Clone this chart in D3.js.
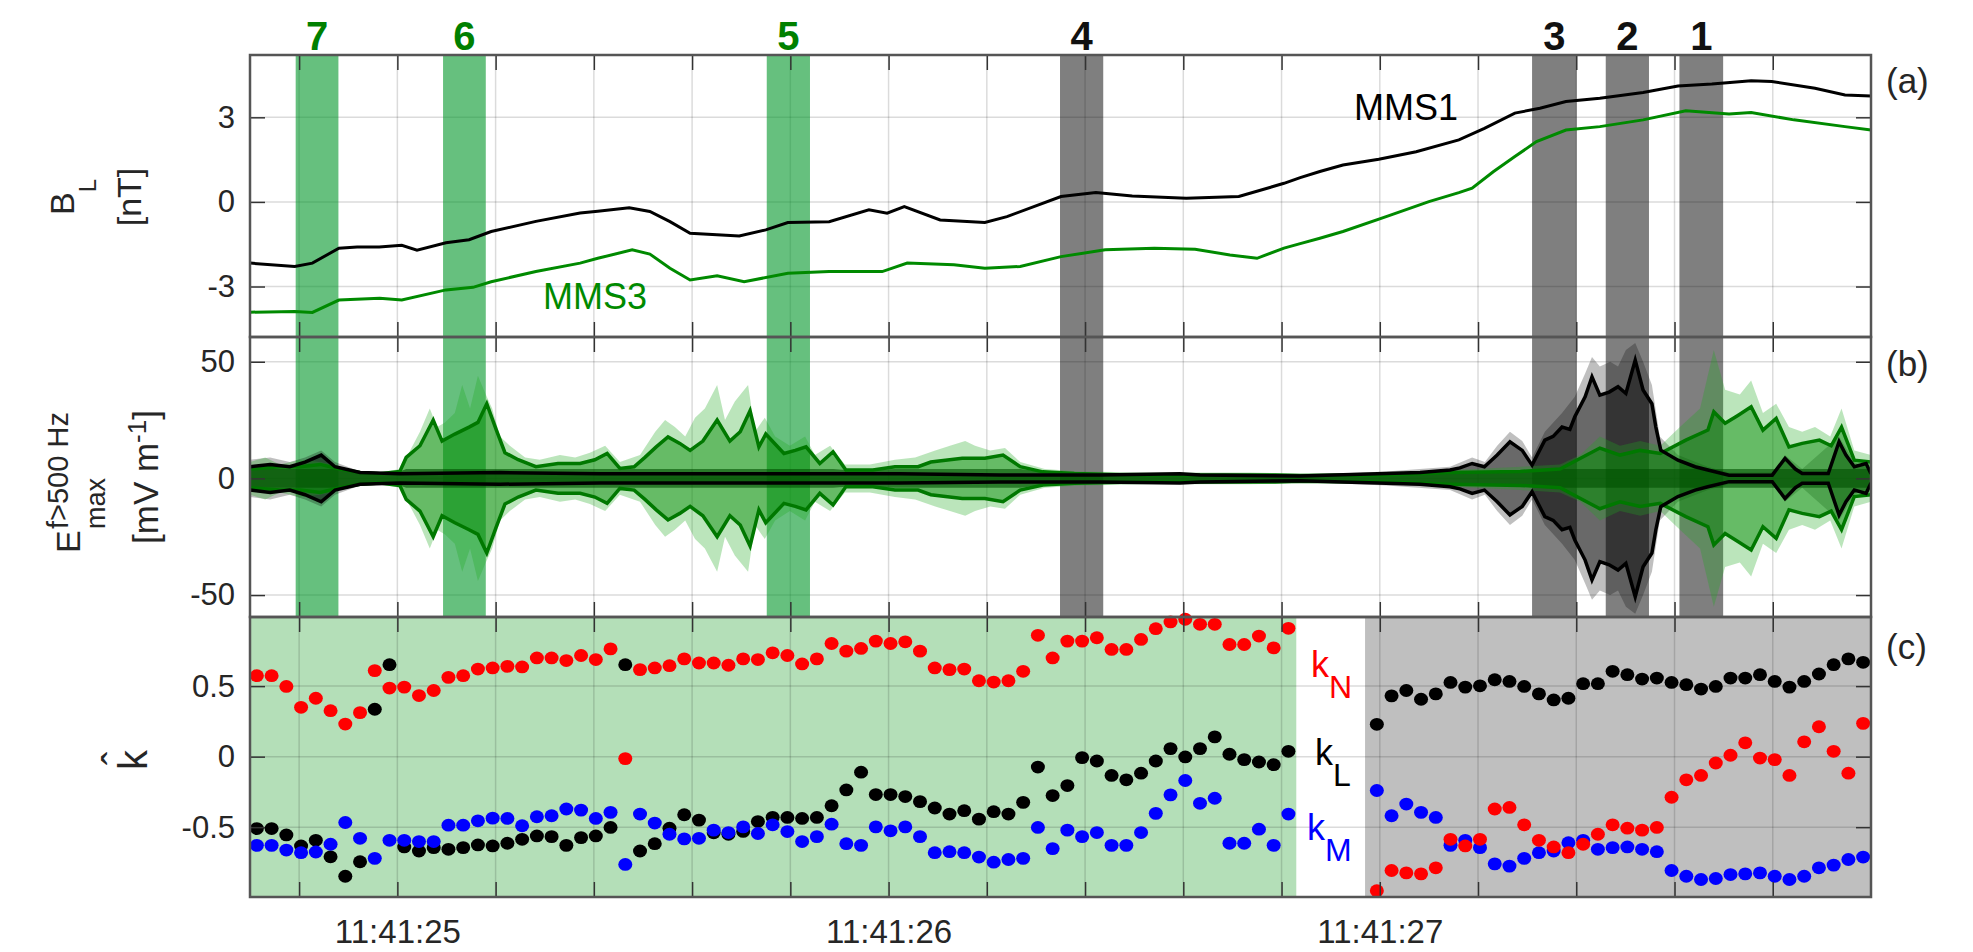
<!DOCTYPE html>
<html>
<head>
<meta charset="utf-8">
<script src="https://cdn.jsdelivr.net/npm/d3@7"></script>
<style>
  body { margin: 0; background: #fff; }
  text { font-family: "Liberation Sans", Arial, Helvetica, sans-serif; }
</style>
</head>
<body>
<svg width="1973" height="952"></svg>
<script>
// time is in seconds after 11:41:00

// vertical grid / x ticks
var gridTimes = [24.8, 25.0, 25.2, 25.4, 25.6, 25.8, 26.0, 26.2, 26.4, 26.6, 26.8, 27.0, 27.2, 27.4, 27.6, 27.8];
var timeLabels = {25: "11:41:25", 26: "11:41:26", 27: "11:41:27"};

// numbered intervals
var bandStart = [24.793, 25.093, 25.752, 26.349, 27.310, 27.460, 27.610];
var bandEnd   = [24.880, 25.180, 25.840, 26.437, 27.401, 27.548, 27.699];
var bandLabel = ["7", "6", "5", "4", "3", "2", "1"];
var bandKind  = ["g", "g", "g", "k", "k", "k", "k"];

// (a) B_L [nT]
var blTime1 = [24.700, 24.791, 24.827, 24.881, 24.918, 24.963, 25.009, 25.040, 25.099, 25.146, 25.191, 25.282, 25.372, 25.408, 25.472, 25.514, 25.555, 25.596, 25.696, 25.750, 25.795, 25.879, 25.960, 25.997, 26.032, 26.105, 26.196, 26.241, 26.351, 26.422, 26.496, 26.606, 26.713, 26.805, 26.838, 26.878, 26.925, 26.998, 27.074, 27.161, 27.213, 27.275, 27.326, 27.379, 27.448, 27.536, 27.607, 27.676, 27.756, 27.798, 27.886, 27.947, 28.000];
var blMms1  = [-2.17, -2.29, -2.17, -1.64, -1.60, -1.60, -1.54, -1.71, -1.45, -1.34, -1.05, -0.69, -0.39, -0.33, -0.21, -0.34, -0.70, -1.11, -1.21, -0.99, -0.73, -0.70, -0.28, -0.40, -0.17, -0.64, -0.73, -0.52, 0.19, 0.33, 0.21, 0.13, 0.19, 0.66, 0.86, 1.08, 1.31, 1.51, 1.78, 2.20, 2.61, 3.15, 3.32, 3.56, 3.68, 3.88, 4.11, 4.18, 4.30, 4.27, 4.03, 3.79, 3.76];
var blTime3 = [24.700, 24.791, 24.827, 24.881, 24.964, 25.009, 25.099, 25.154, 25.191, 25.282, 25.372, 25.408, 25.478, 25.514, 25.555, 25.596, 25.651, 25.706, 25.795, 25.879, 25.987, 26.038, 26.133, 26.196, 26.268, 26.351, 26.441, 26.541, 26.624, 26.695, 26.750, 26.805, 26.838, 26.878, 26.925, 27.013, 27.100, 27.161, 27.188, 27.231, 27.275, 27.319, 27.379, 27.448, 27.536, 27.623, 27.711, 27.756, 27.843, 27.947, 28.000];
var blMms3  = [-3.91, -3.89, -3.92, -3.48, -3.42, -3.48, -3.12, -3.03, -2.83, -2.47, -2.17, -2.00, -1.70, -1.85, -2.35, -2.77, -2.62, -2.83, -2.53, -2.47, -2.47, -2.17, -2.23, -2.35, -2.29, -1.94, -1.70, -1.64, -1.68, -1.88, -2.00, -1.64, -1.48, -1.29, -1.05, -0.52, 0.01, 0.33, 0.49, 1.07, 1.61, 2.14, 2.55, 2.67, 2.91, 3.23, 3.12, 3.17, 2.91, 2.67, 2.55];

// (b) E max f>500 Hz [mV/m]: envelope and waveform extremes
var eTime3 = [24.700, 24.761, 24.802, 24.843, 24.883, 24.924, 24.965, 25.005, 25.018, 25.046, 25.073, 25.091, 25.117, 25.146, 25.164, 25.182, 25.201, 25.219, 25.246, 25.282, 25.327, 25.372, 25.402, 25.427, 25.453, 25.482, 25.504, 25.527, 25.551, 25.575, 25.596, 25.622, 25.651, 25.677, 25.698, 25.718, 25.736, 25.750, 25.787, 25.810, 25.832, 25.860, 25.887, 25.913, 25.968, 26.013, 26.060, 26.086, 26.150, 26.196, 26.233, 26.268, 26.314, 26.378, 26.471, 26.634, 26.787, 26.838, 27.013, 27.143, 27.286, 27.367, 27.448, 27.489, 27.530, 27.571, 27.623, 27.668, 27.680, 27.703, 27.729, 27.756, 27.780, 27.807, 27.833, 27.860, 27.895, 27.919, 27.940, 27.966, 28.000];
var eEnv3  = [4, 5, 5, 6, 4, 2.5, 2, 3, 9, 14, 25, 16, 19, 22, 24, 32, 21, 11, 8, 5, 6.4, 6.4, 8, 10.7, 4.3, 5, 9, 13.5, 17.8, 15, 12, 16, 25, 16, 20, 29, 13.5, 19, 10.7, 12, 13.5, 6.4, 11.4, 3.6, 3.6, 5, 5, 7, 8.6, 8.6, 10, 5, 2.8, 2.1, 1.6, 1.5, 1.5, 1.2, 1.5, 2.5, 3, 4, 13, 10, 12, 10.7, 16.4, 20.7, 28.5, 23.6, 27, 30.7, 20.7, 25.7, 13.5, 15, 16.4, 14, 22, 7.8, 7];
var pTime3 = [24.700, 24.731, 24.761, 24.802, 24.843, 24.883, 24.924, 24.965, 25.005, 25.026, 25.046, 25.066, 25.081, 25.097, 25.117, 25.132, 25.148, 25.164, 25.180, 25.193, 25.209, 25.229, 25.260, 25.290, 25.331, 25.362, 25.392, 25.423, 25.453, 25.494, 25.525, 25.545, 25.565, 25.586, 25.606, 25.626, 25.651, 25.667, 25.687, 25.714, 25.728, 25.748, 25.769, 25.799, 25.830, 25.850, 25.881, 25.911, 25.962, 26.013, 26.054, 26.095, 26.125, 26.156, 26.176, 26.207, 26.237, 26.268, 26.318, 26.390, 26.532, 26.736, 26.838, 27.041, 27.143, 27.286, 27.367, 27.408, 27.448, 27.489, 27.530, 27.571, 27.611, 27.652, 27.680, 27.703, 27.733, 27.756, 27.780, 27.807, 27.833, 27.860, 27.886, 27.917, 27.940, 27.966, 28.000];
var pPeak3 = [7, 9, 6, 8, 7, 5, 3, 2.5, 4, 12, 20, 30, 22, 24, 28, 40, 30, 44, 36, 30, 18, 14, 9, 8, 10, 9, 11, 14, 7, 10, 20, 25, 22, 18, 26, 30, 40, 25, 33, 40, 20, 26, 18, 14, 18, 10, 14, 6, 6, 8, 9, 12, 14, 16, 14, 12, 13, 7, 4, 3, 2.5, 2.5, 2, 2.5, 3.5, 5, 6, 10, 18, 14, 16, 14, 22, 30, 55, 38, 36, 42, 28, 32, 22, 20, 22, 18, 30, 12, 10];

var eTime1 = [24.700, 24.741, 24.781, 24.812, 24.845, 24.873, 24.924, 25.005, 25.209, 25.413, 25.616, 25.820, 26.023, 26.227, 26.430, 26.593, 26.634, 26.838, 27.013, 27.082, 27.143, 27.163, 27.188, 27.213, 27.239, 27.265, 27.290, 27.310, 27.336, 27.353, 27.371, 27.387, 27.397, 27.418, 27.432, 27.448, 27.467, 27.485, 27.501, 27.520, 27.536, 27.554, 27.562, 27.572, 27.607, 27.642, 27.668, 27.711, 27.799, 27.825, 27.846, 27.860, 27.913, 27.935, 27.949, 27.966, 27.990, 28.000];
var eEnv1  = [5, 6, 5, 7, 10, 5, 2.5, 2, 2.5, 2, 2, 2, 2, 1.5, 1.5, 2, 1.5, 1, 2.1, 2.5, 3.6, 4.5, 6.4, 5, 10, 15.7, 12, 5.7, 16.4, 18, 22, 21, 26.4, 35, 43.5, 35.7, 37, 39.3, 36.4, 50.7, 37.9, 32, 22, 12.1, 7.8, 5, 3.6, 1.4, 1.4, 8.6, 4, 2.1, 2.1, 15.7, 10, 5, 6.4, 2];
var pTime1 = [24.700, 24.741, 24.781, 24.812, 24.845, 24.873, 24.924, 25.005, 26.838, 27.013, 27.143, 27.188, 27.214, 27.239, 27.265, 27.290, 27.310, 27.336, 27.371, 27.397, 27.418, 27.432, 27.448, 27.469, 27.485, 27.501, 27.520, 27.536, 27.554, 27.570, 27.607, 27.668, 27.711, 27.799, 27.825, 27.860, 27.935, 27.966, 28.000];
var pPeak1 = [8, 9, 7, 9, 12, 7, 3, 2.5, 1.5, 3, 5, 9, 7, 14, 20, 16, 9, 20, 28, 35, 45, 52, 48, 50, 48, 55, 58, 50, 40, 18, 10, 5, 2.5, 2.5, 10, 4, 18, 7, 4];

// (c) k-hat components, one sample every 0.03 s from 24.714 s (null = no estimate)
var kStart = 24.714, kStep = 0.03;
var kN = [0.574, 0.574, 0.498, 0.350, 0.414, 0.326, 0.231, 0.312, 0.610, 0.486, 0.493, 0.433, 0.469, 0.562, 0.574, 0.621, 0.629, 0.640, 0.636, 0.700, 0.700, 0.681, 0.717, 0.688, 0.764, -0.014, 0.617, 0.629, 0.645, 0.693, 0.664, 0.664, 0.648, 0.693, 0.688, 0.736, 0.717, 0.657, 0.693, 0.802, 0.748, 0.767, 0.819, 0.802, 0.814, 0.748, 0.629, 0.617, 0.621, 0.538, 0.529, 0.538, 0.605, 0.860, 0.700, 0.819, 0.819, 0.843, 0.760, 0.760, 0.831, 0.907, 0.955, 0.974, 0.938, 0.938, 0.795, 0.795, 0.855, 0.771, 0.910, null, null, null, null, null, -0.950, -0.807, -0.824, -0.831, -0.788, -0.586, -0.633, -0.586, -0.371, -0.360, -0.483, -0.593, -0.640, -0.681, -0.621, -0.550, -0.483, -0.507, -0.521, -0.502, -0.288, -0.164, -0.133, -0.045, 0.010, 0.098, -0.010, -0.021, -0.133, 0.105, 0.212, 0.038, -0.117, 0.236];
var kL = [-0.510, -0.510, -0.555, -0.633, -0.593, -0.710, -0.848, -0.745, 0.336, 0.652, -0.640, -0.669, -0.645, -0.657, -0.645, -0.626, -0.633, -0.614, -0.586, -0.562, -0.567, -0.629, -0.574, -0.562, -0.502, 0.652, -0.669, -0.617, -0.507, -0.412, -0.450, -0.540, -0.550, -0.530, -0.460, -0.430, -0.431, -0.438, -0.431, -0.348, -0.236, -0.110, -0.269, -0.269, -0.283, -0.319, -0.364, -0.407, -0.383, -0.443, -0.390, -0.407, -0.324, -0.074, -0.276, -0.205, -0.007, -0.031, -0.133, -0.164, -0.117, -0.031, 0.057, -0.002, 0.057, 0.140, 0.017, -0.021, -0.038, -0.057, 0.038, null, null, null, null, null, 0.229, 0.431, 0.469, 0.407, 0.445, 0.526, 0.493, 0.502, 0.545, 0.533, 0.498, 0.445, 0.402, 0.414, 0.517, 0.517, 0.605, 0.581, 0.550, 0.557, 0.526, 0.510, 0.479, 0.498, 0.557, 0.557, 0.581, 0.533, 0.493, 0.533, 0.586, 0.652, 0.693, 0.669];
var kM = [-0.629, -0.629, -0.662, -0.681, -0.676, -0.621, -0.467, -0.579, -0.721, -0.593, -0.593, -0.602, -0.602, -0.486, -0.486, -0.455, -0.436, -0.438, -0.490, -0.426, -0.419, -0.371, -0.379, -0.438, -0.395, -0.764, -0.407, -0.471, -0.550, -0.583, -0.579, -0.521, -0.538, -0.498, -0.545, -0.483, -0.531, -0.602, -0.567, -0.479, -0.617, -0.629, -0.498, -0.526, -0.498, -0.567, -0.681, -0.674, -0.681, -0.712, -0.748, -0.729, -0.721, -0.502, -0.652, -0.521, -0.567, -0.538, -0.629, -0.629, -0.538, -0.402, -0.271, -0.169, -0.331, -0.295, -0.614, -0.614, -0.514, -0.629, -0.407, null, null, null, null, null, -0.240, -0.419, -0.336, -0.395, -0.431, -0.629, -0.593, -0.645, -0.760, -0.776, -0.721, -0.681, -0.669, -0.610, -0.593, -0.657, -0.645, -0.640, -0.657, -0.674, -0.807, -0.848, -0.871, -0.864, -0.836, -0.831, -0.824, -0.848, -0.871, -0.848, -0.788, -0.769, -0.729, -0.712];
// shaded regions behind (c)
var kBgStart = [24.7, 26.970];
var kBgEnd   = [26.830, 28.0];
var kBgColor = ["#b4dfb8", "#bfbfbf"];

var svg = d3.select("svg");
var left = 250, right = 1871;
var topA = 55, topB = 337, topC = 617, bottomC = 897;

var x  = d3.scaleLinear().domain([24.7, 28.0]).range([left, right]);
var yA = d3.scaleLinear().domain([-4.79, 5.21]).range([topB, topA]);
var yB = d3.scaleLinear().domain([-59.4, 60.6]).range([topC, topB]);
var yC = d3.scaleLinear().domain([-0.995, 0.99]).range([bottomC, topC]);

var green = "#008000";

function pairs(ts, vs) { return ts.map(function(t, i) { return {t: t, v: vs[i]}; }); }

function grid(top, bottom, yS, yTicks) {
  var g = svg.append("g").attr("stroke", "rgba(0,0,0,0.14)").attr("stroke-width", 1.5);
  g.selectAll(".gx").data(gridTimes).enter().append("line")
    .attr("x1", function(d) { return x(d); }).attr("x2", function(d) { return x(d); })
    .attr("y1", top).attr("y2", bottom);
  g.selectAll(".gy").data(yTicks).enter().append("line")
    .attr("x1", left).attr("x2", right)
    .attr("y1", function(d) { return yS(d); }).attr("y2", function(d) { return yS(d); });
}

function frame(top, bottom, yS, yTicks, withTime) {
  var g = svg.append("g");
  var ya = g.append("g").attr("transform", "translate(" + left + ",0)")
    .call(d3.axisLeft(yS).tickValues(yTicks).tickFormat(function(d) { return String(d); })
      .tickSizeInner(-15).tickSizeOuter(0).tickPadding(15));
  g.append("g").attr("transform", "translate(" + right + ",0)")
    .call(d3.axisRight(yS).tickValues(yTicks).tickFormat("").tickSizeInner(-15).tickSizeOuter(0));
  g.append("g").attr("transform", "translate(0," + top + ")")
    .call(d3.axisTop(x).tickValues(gridTimes).tickFormat("").tickSizeInner(-15).tickSizeOuter(0));
  var xa = g.append("g").attr("transform", "translate(0," + bottom + ")")
    .call(d3.axisBottom(x).tickValues(gridTimes)
      .tickFormat(function(d) { return withTime ? (timeLabels[Math.round(d * 10) / 10] || "") : ""; })
      .tickSizeInner(-15).tickSizeOuter(0));
  g.selectAll(".domain").remove();
  g.selectAll(".tick line").attr("stroke", "#333").attr("stroke-width", 1.5);
  ya.selectAll("text").attr("font-size", 31).attr("fill", "#262626");
  xa.selectAll("text").attr("font-size", 33).attr("fill", "#262626").attr("y", 46).attr("dy", null);
  g.append("rect").attr("x", left).attr("y", top).attr("width", right - left).attr("height", bottom - top)
    .attr("fill", "none").attr("stroke", "#555").attr("stroke-width", 2.5);
}

function bands(top, bottom) {
  svg.append("g").selectAll("rect").data(bandStart).enter().append("rect")
    .attr("x", function(d) { return x(d); })
    .attr("width", function(d, i) { return x(bandEnd[i]) - x(d); })
    .attr("y", top).attr("height", bottom - top)
    .attr("fill", function(d, i) { return bandKind[i] === "g" ? "rgb(0,150,40)" : "#000"; })
    .attr("fill-opacity", function(d, i) { return bandKind[i] === "g" ? 0.6 : 0.5; });
}

// ---------- panel (a)
grid(topA, topB, yA, [-3, 0, 3]);
bands(topA, topB);
var lineA = d3.line().x(function(d) { return x(d.t); }).y(function(d) { return yA(d.v); });
svg.append("path").datum(pairs(blTime3, blMms3)).attr("d", lineA)
  .attr("fill", "none").attr("stroke", "#008a00").attr("stroke-width", 3);
svg.append("path").datum(pairs(blTime1, blMms1)).attr("d", lineA)
  .attr("fill", "none").attr("stroke", "#000").attr("stroke-width", 3);
svg.append("text").attr("x", 1354).attr("y", 120).attr("font-size", 36).attr("fill", "#000").text("MMS1");
svg.append("text").attr("x", 543).attr("y", 309).attr("font-size", 36).attr("fill", "#008a00").text("MMS3");

// ---------- panel (b)
grid(topB, topC, yB, [-50, 0, 50]);
bands(topB, topC);
svg.append("clipPath").attr("id", "clipB").append("rect")
  .attr("x", left).attr("y", topB).attr("width", right - left).attr("height", topC - topB);
var gB = svg.append("g").attr("clip-path", "url(#clipB)");
var band = d3.area().x(function(d) { return x(d.t); })
  .y0(function(d) { return yB(-d.v); }).y1(function(d) { return yB(d.v); });
var upper = d3.line().x(function(d) { return x(d.t); }).y(function(d) { return yB(d.v); });
var lower = d3.line().x(function(d) { return x(d.t); }).y(function(d) { return yB(-d.v); });

var env1 = pairs(eTime1, eEnv1), env3 = pairs(eTime3, eEnv3);
gB.append("path").datum(pairs(pTime1, pPeak1)).attr("d", band).attr("fill", "rgba(0,0,0,0.25)");
gB.append("path").datum(env1).attr("d", band).attr("fill", "rgba(0,0,0,0.45)");
gB.append("path").datum(pairs(pTime3, pPeak3)).attr("d", band).attr("fill", "rgba(30,170,30,0.3)");
gB.append("path").datum(env3).attr("d", band).attr("fill", "rgba(0,135,0,0.45)");
gB.append("path").datum(env3.map(function(d) { return {t: d.t, v: Math.min(d.v, 4)}; }))
  .attr("d", band).attr("fill", "rgba(0,80,0,0.6)");
[upper, lower].forEach(function(l) {
  gB.append("path").datum(env3).attr("d", l).attr("fill", "none").attr("stroke", "#007800").attr("stroke-width", 3.5);
});
[upper, lower].forEach(function(l) {
  gB.append("path").datum(env1).attr("d", l).attr("fill", "none").attr("stroke", "#000").attr("stroke-width", 3.5);
});

// ---------- panel (c)
svg.append("g").selectAll("rect").data(kBgStart).enter().append("rect")
  .attr("x", function(d) { return x(d); })
  .attr("width", function(d, i) { return x(kBgEnd[i]) - x(d); })
  .attr("y", topC).attr("height", bottomC - topC)
  .attr("fill", function(d, i) { return kBgColor[i]; });
grid(topC, bottomC, yC, [-0.5, 0, 0.5]);

function dots(vals, col) {
  var data = vals.map(function(v, i) { return {t: kStart + kStep * i, v: v}; })
    .filter(function(d) { return d.v !== null; });
  svg.append("g").selectAll("ellipse").data(data).enter().append("ellipse")
    .attr("cx", function(d) { return x(d.t); }).attr("cy", function(d) { return yC(d.v); })
    .attr("rx", 7).attr("ry", 6.4).attr("fill", col);
}
dots(kL, "#000");
dots(kM, "#0000ff");
dots(kN, "#ff0000");

function kLabel(xp, yp, sub, col) {
  var t = svg.append("text").attr("x", xp).attr("y", yp).attr("fill", col).attr("font-size", 36);
  t.append("tspan").text("k");
  t.append("tspan").attr("dy", 21).attr("font-size", 32).text(sub);
}
kLabel(1311, 677, "N", "#ff0000");
kLabel(1315, 765, "L", "#000");
kLabel(1307, 840, "M", "#0000ff");

// frames and ticks on top
frame(topA, topB, yA, [-3, 0, 3], false);
frame(topB, topC, yB, [-50, 0, 50], false);
frame(topC, bottomC, yC, [-0.5, 0, 0.5], true);

// interval numbers
svg.append("g").selectAll("text").data(bandStart).enter().append("text")
  .attr("x", function(d, i) { return (x(d) + x(bandEnd[i])) / 2; })
  .attr("y", 50).attr("text-anchor", "middle")
  .attr("font-size", 40).attr("font-weight", "bold")
  .attr("fill", function(d, i) { return bandKind[i] === "g" ? green : "#111"; })
  .text(function(d, i) { return bandLabel[i]; });

// panel letters
[["(a)", 93], ["(b)", 376], ["(c)", 659]].forEach(function(p) {
  svg.append("text").attr("x", 1886).attr("y", p[1]).attr("font-size", 35).attr("fill", "#262626").text(p[0]);
});

// y labels
var la = svg.append("text").attr("transform", "translate(74,197) rotate(-90)")
  .attr("text-anchor", "middle").attr("font-size", 34).attr("fill", "#262626");
la.append("tspan").text("B");
la.append("tspan").attr("dy", 22).attr("font-size", 24).text("L");
svg.append("text").attr("transform", "translate(141,197) rotate(-90)")
  .attr("text-anchor", "middle").attr("font-size", 34).attr("fill", "#262626").text("[nT]");

var lb = svg.append("text").attr("transform", "translate(80,553) rotate(-90)")
  .attr("font-size", 34).attr("fill", "#262626");
lb.append("tspan").attr("x", 0).attr("y", 0).text("E");
lb.append("tspan").attr("x", 24).attr("y", -12).attr("font-size", 29).text("f>500 Hz");
lb.append("tspan").attr("x", 24).attr("y", 25).attr("font-size", 27).text("max");
var lb2 = svg.append("text").attr("transform", "translate(158,477) rotate(-90)")
  .attr("text-anchor", "middle").attr("font-size", 35).attr("fill", "#262626");
lb2.append("tspan").text("[mV m");
lb2.append("tspan").attr("dy", -12).attr("font-size", 26).text("-1");
lb2.append("tspan").attr("dy", 12).text("]");

var lc = svg.append("text").attr("transform", "translate(147,770) rotate(-90)")
  .attr("font-size", 40).attr("fill", "#262626");
lc.append("tspan").attr("x", 0).attr("y", 0).text("k");
lc.append("tspan").attr("x", 5).attr("y", -16).text("\u02C6");
</script>
</body>
</html>
